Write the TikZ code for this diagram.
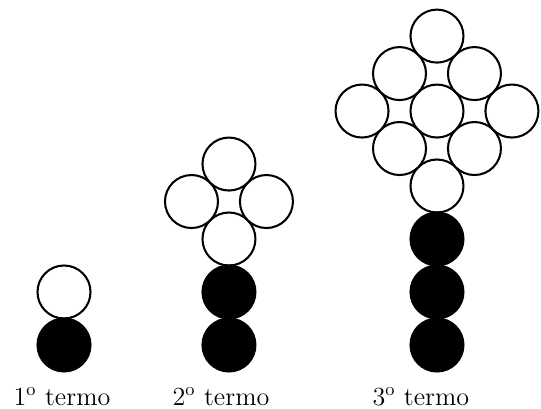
\documentclass[tikz,border=0pt]{standalone}
\usepackage{fontspec}
\begin{document}
\begin{tikzpicture}[x=1cm,y=1cm,
  wc/.style={circle,draw=black,fill=white,line width=1.1pt,minimum size=1cm,inner sep=0pt},
  bc/.style={circle,draw=black,fill=black,line width=1.1pt,minimum size=1cm,inner sep=0pt},
  lbl/.style={anchor=base,font=\fontsize{14}{17}\selectfont,inner sep=0pt}]
\useasboundingbox (0,0) rectangle (10.2075,7.717);
\def\yb{1.2075}
\def\dd{0.7071}
% term 1
\node[wc] (t1w) at (1.2075,\yb+1) {};
\node[bc] (t1b1) at (1.2075,\yb) {};
% term 2
\foreach \i in {-0.5,0.5}{
  \foreach \j in {-0.5,0.5}{
    \node[wc] (t2w\i\j) at ({4.32+(\i-\j)*\dd},{\yb+2+\dd+(\i+\j)*\dd}) {};
  }
}
\node[bc] (t2b2) at (4.32,\yb+1) {};
\node[bc] (t2b1) at (4.32,\yb) {};
% term 3
\foreach \i in {-1,0,1}{
  \foreach \j in {-1,0,1}{
    \node[wc] (t3w\i\j) at ({8.245+(\i-\j)*\dd},{\yb+3+2*\dd+(\i+\j)*\dd}) {};
  }
}
\node[bc] (t3b3) at (8.245,\yb+2) {};
\node[bc] (t3b2) at (8.245,\yb+1) {};
\node[bc] (t3b1) at (8.245,\yb) {};
% labels
\node[lbl] (l1) at (1.17,0.075) {1$^{\mathrm{o}}$ termo};
\node[lbl] (l2) at (4.17,0.075) {2$^{\mathrm{o}}$ termo};
\node[lbl] (l3) at (7.94,0.075) {3$^{\mathrm{o}}$ termo};
\end{tikzpicture}
\end{document}
